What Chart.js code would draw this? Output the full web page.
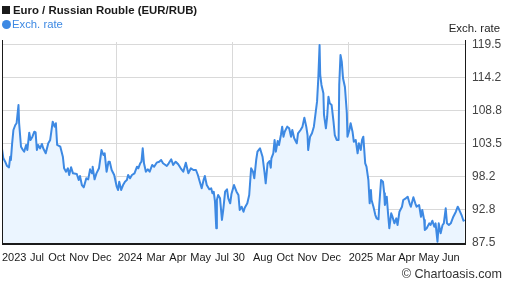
<!DOCTYPE html>
<html>
<head>
<meta charset="utf-8">
<title>Euro / Russian Rouble (EUR/RUB)</title>
<script src="https://cdn.jsdelivr.net/npm/chart.js"></script>
<style>
    html, body { margin: 0; padding: 0; background: #fff; }
    .wrap {
        position: relative;
        width: 507px;
        height: 288px;
        font-family: "Liberation Sans", Arial, sans-serif;
        overflow: hidden;
    }
    #rateChart { position: absolute; left: 0; top: 0; }
    .txt { position: absolute; white-space: nowrap; line-height: 1; }
    .title { left: 2px; top: 5px; font-size: 11.4px; font-weight: bold; color: #1a1a1a; }
    .title i { display: inline-block; width: 8px; height: 8px; background: #1a1a1a; margin-right: 3px; }
    .legend { left: 2px; top: 19px; font-size: 11.3px; color: #3d89e3; }
    .legend i { display: inline-block; width: 9px; height: 9px; border-radius: 50%; background: #3d89e3; margin-right: 1px; vertical-align: -1px; }
    .axis-title { right: 7px; top: 23px; font-size: 11.4px; color: #222; }
    .copy { right: 5px; top: 268px; font-size: 12.6px; color: #333; }
</style>
</head>
<body>
<div class="wrap">
    <canvas id="rateChart" width="507" height="288"></canvas>
    <div class="txt title"><i></i>Euro / Russian Rouble (EUR/RUB)</div>
    <div class="txt legend"><i></i>Exch. rate</div>
    <div class="txt axis-title">Exch. rate</div>
    <div class="txt copy">© Chartoasis.com</div>
</div>

<script>
    // days since 2023-07-04 and the EUR/RUB rate
    const days = [
        0, 2, 5, 8, 11, 13, 14, 16, 18, 21, 23, 26, 27, 30, 33, 35, 38, 40, 43, 45,
        48, 51, 53, 55, 57, 60, 63, 65, 69, 73, 76, 80, 83, 85, 87, 92, 96, 98, 101, 104,
        106, 109, 112, 118, 121, 123, 126, 129, 133, 136, 139, 142, 143, 146, 149, 153, 157, 160, 162, 165,
        168, 170, 173, 177, 181, 183, 185, 188, 191, 194, 197, 199, 202, 205, 209, 213, 215, 218, 220, 222,
        224, 227, 230, 233, 237, 240, 244, 248, 251, 254, 260, 263, 267, 270, 274, 278, 282, 286, 290, 294,
        298, 302, 306, 309, 312, 315, 318, 320, 323, 327, 330, 332, 334, 336, 338, 339, 341, 344, 347, 349,
        352, 355, 357, 360, 362, 366, 370, 373, 375, 378, 381, 383, 387, 390, 393, 396, 398, 401, 403, 407,
        411, 414, 416, 419, 422, 424, 425, 428, 430, 432, 435, 437, 440, 442, 444, 446, 450, 453, 456, 458,
        461, 465, 467, 471, 474, 477, 480, 482, 483, 486, 489, 492, 495, 497, 499, 501, 502, 504, 507, 508,
        511, 513, 515, 517, 520, 523, 525, 528, 531, 532, 534, 536, 538, 541, 544, 545, 548, 550, 553, 555,
        558, 561, 563, 566, 568, 570, 573, 575, 578, 580, 582, 583, 586, 589, 591, 594, 595, 598, 601, 603,
        604, 607, 609, 611, 614, 616, 619, 622, 624, 627, 631, 633, 637, 640, 643, 645, 649, 652, 654, 658,
        661, 663, 666, 667, 670, 674, 676, 679, 682, 684, 687, 689, 692, 695, 697, 700, 702, 705, 708, 712,
        716, 719, 721, 725, 728, 730
    ];
    const rates = [
        102.61, 101.16, 100.56, 99.86, 99.65, 101.37, 100.83, 103.53, 105.68, 106.49, 106.77, 109.72, 106.81, 102.98, 102.45, 102.18, 103.26, 102.45, 105.25, 104.07,
        104.60, 105.41, 105.30, 102.45, 103.26, 102.72, 103.42, 102.72, 101.92, 103.53, 104.07, 107.02, 106.22, 106.77, 103.26, 102.98, 101.37, 99.49, 98.94, 99.49,
        98.41, 99.65, 98.68, 98.57, 97.60, 98.25, 96.79, 96.42, 97.88, 97.71, 99.33, 98.68, 99.75, 97.71, 98.68, 99.49, 102.45, 101.64, 101.92, 98.94,
        100.56, 100.56, 99.22, 98.41, 96.52, 95.99, 97.33, 95.99, 96.79, 97.33, 97.60, 98.41, 97.88, 98.41, 98.68, 99.75, 99.49, 100.30, 100.56, 102.72,
        100.30, 98.94, 99.33, 98.94, 100.03, 99.75, 100.40, 100.56, 100.83, 100.30, 99.86, 100.30, 100.95, 100.03, 100.56, 100.14, 99.49, 98.94, 100.40, 98.68,
        99.49, 99.22, 99.22, 98.41, 97.33, 96.26, 97.60, 98.25, 96.79, 96.10, 96.26, 95.45, 95.71, 94.09, 89.80, 94.37, 95.18, 94.64, 91.14, 92.75,
        95.71, 96.10, 94.64, 93.84, 95.34, 96.79, 95.71, 95.18, 92.75, 93.29, 92.48, 93.12, 93.84, 95.18, 99.49, 98.94, 97.88, 100.83, 102.18, 102.72,
        101.37, 98.94, 97.07, 100.30, 100.67, 99.59, 101.11, 101.92, 104.07, 102.18, 103.90, 103.26, 104.87, 106.22, 104.60, 105.41, 106.22, 105.96, 104.60, 105.68,
        104.34, 103.53, 105.15, 105.68, 106.22, 107.67, 106.22, 104.87, 102.45, 104.60, 105.15, 106.22, 108.64, 110.26, 114.04, 119.42, 114.57, 112.96, 111.61, 108.11,
        105.96, 107.83, 111.06, 110.00, 109.72, 107.02, 104.87, 104.07, 104.07, 112.96, 117.80, 116.72, 114.04, 112.63, 108.43, 104.60, 105.68, 106.77, 105.41, 103.79,
        104.07, 101.92, 103.53, 102.45, 104.07, 104.60, 100.30, 99.75, 97.60, 93.84, 95.99, 94.37, 93.29, 91.94, 91.41, 91.25, 93.29, 97.60, 97.33, 95.45,
        93.56, 94.90, 92.22, 89.80, 92.22, 91.67, 90.60, 91.41, 90.33, 92.48, 93.29, 94.37, 94.64, 94.90, 93.84, 93.29, 94.81, 93.84, 93.29, 93.56,
        91.67, 92.75, 91.14, 89.52, 89.80, 90.60, 90.33, 91.02, 90.05, 90.60, 87.63, 90.60, 88.99, 90.33, 90.60, 93.03, 90.60, 90.33, 90.60, 91.67,
        92.48, 93.29, 92.87, 91.94, 91.02, 91.14
    ];

    // bottom axis labels (left edge at the given day) and half-year grid lines
    const xTickLabels = ['2023', 'Jul', 'Oct', 'Nov', 'Dec', '2024', 'Mar', 'Apr', 'May', 'Jul', '30',
                         'Aug', 'Oct', 'Nov', 'Dec', '2025', 'Mar', 'Apr', 'May', 'Jun'];
    const xTickDays = [0, 44, 73, 106, 142, 183, 228, 264, 297, 336, 364,
                       396, 433, 466, 504, 547, 591, 625, 657, 694];
    const gridDays = [181, 363, 547];
    const yTicks = [87.5, 92.83, 98.17, 103.5, 108.83, 114.17, 119.5];

    const lineColor = '#3d89e3';
    const gridColor = '#d9d9d9';
    const tickFont = { family: '"Liberation Sans", Arial, sans-serif', size: 12 };
    const dateFont = { family: '"Liberation Sans", Arial, sans-serif', size: 11 };

    // dark frame on left, right and bottom of the plot
    const framePlugin = {
        id: 'frame',
        afterDatasetsDraw(chart) {
            const { ctx, chartArea: a } = chart;
            ctx.save();
            ctx.strokeStyle = '#1a1a1a';
            ctx.lineWidth = 1;
            ctx.beginPath();
            ctx.moveTo(a.left + 0.5, a.top - 2);
            ctx.lineTo(a.left + 0.5, a.bottom);
            ctx.moveTo(a.right - 0.5, a.top - 2);
            ctx.lineTo(a.right - 0.5, a.bottom);
            ctx.stroke();
            ctx.lineWidth = 2;
            ctx.beginPath();
            ctx.moveTo(a.left, a.bottom - 1);
            ctx.lineTo(a.right, a.bottom - 1);
            ctx.stroke();
            ctx.restore();
        }
    };

    const config = {
        type: 'line',
        data: {
            datasets: [{
                label: 'Exch. rate',
                data: days.map((d, i) => ({ x: d, y: rates[i] })),
                borderColor: lineColor,
                borderWidth: 2,
                backgroundColor: '#ebf5ff',
                fill: 'start',
                pointRadius: 0,
                tension: 0,
                borderJoinStyle: 'round'
            }]
        },
        options: {
            responsive: false,
            animation: false,
            layout: { padding: { top: 42, left: 2, right: 0, bottom: 0 } },
            plugins: { legend: { display: false }, tooltip: { enabled: false } },
            scales: {
                x: {
                    type: 'linear', min: 0, max: 732, position: 'bottom',
                    grid: { color: gridColor, drawTicks: false },
                    border: { display: false },
                    ticks: { display: false },
                    afterBuildTicks: s => { s.ticks = gridDays.map(v => ({ value: v })); },
                    afterFit: s => { s.height = 0; }
                },
                xLabels: {
                    type: 'linear', min: 0, max: 732, position: 'bottom',
                    grid: { display: false, drawTicks: false },
                    border: { display: false },
                    ticks: {
                        autoSkip: false, maxRotation: 0, minRotation: 0, align: 'start',
                        padding: 6, color: '#1a1a1a', font: dateFont,
                        callback: (v, i) => xTickLabels[i]
                    },
                    afterBuildTicks: s => { s.ticks = xTickDays.map(v => ({ value: v })); },
                    afterFit: s => {
                        s.height = 43;
                        s.paddingLeft = 0;
                        s.paddingRight = 0;
                    }
                },
                y: {
                    position: 'right', min: 87.1, max: 119.9,
                    grid: { color: gridColor, drawTicks: false },
                    border: { display: false },
                    ticks: { padding: 6, color: '#444', font: tickFont, callback: v => v.toFixed(1) },
                    afterBuildTicks: s => { s.ticks = yTicks.map(v => ({ value: v })); },
                    afterFit: s => { s.width = 41; }
                }
            }
        },
        plugins: [framePlugin]
    };

    new Chart(document.getElementById('rateChart'), config);
</script>
</body>
</html>
